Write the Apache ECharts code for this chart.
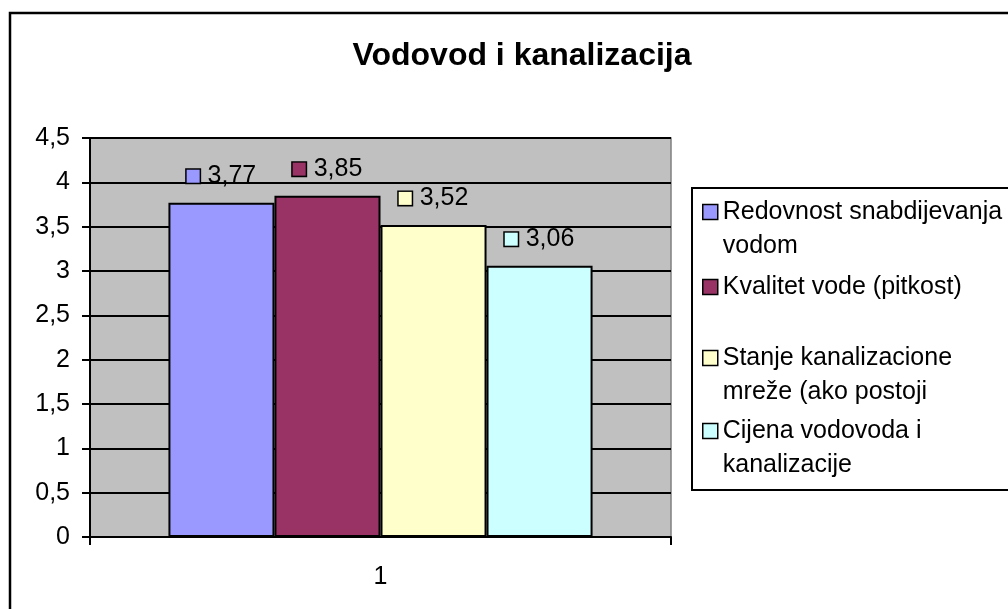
<!DOCTYPE html>
<html><head><meta charset="utf-8">
<script src="https://cdn.jsdelivr.net/npm/echarts@6/dist/echarts.min.js"></script>
<style>html,body{margin:0;padding:0;background:#fff}#c{width:1008px;height:609px}</style>
</head><body><div id="c"></div>
<script>
const title = 'Vodovod i kanalizacija';
const categories = ['1'];
const seriesNames = ['Redovnost snabdijevanja vodom', 'Kvalitet vode (pitkost)', 'Stanje kanalizacione mreže (ako postoji', 'Cijena vodovoda i kanalizacije'];
const legendLabels = ['Redovnost snabdijevanja\nvodom', 'Kvalitet vode (pitkost)', 'Stanje kanalizacione\nmreže (ako postoji', 'Cijena vodovoda i\nkanalizacije'];
const values = [3.77, 3.85, 3.52, 3.06];
const colors = ['#9999FF', '#993366', '#FFFFCC', '#CCFFFF'];
const yMin = 0, yMax = 4.5, yStep = 0.5;

const FONT = 'Liberation Sans, Arial, sans-serif';
const fmt = v => String(v).replace('.', ',');
const LH = 34;
const legendCenters = [212, 287, 358, 431];

const series = seriesNames.map((n, i) => ({
  name: n, type: 'bar', data: [values[i]],
  barGap: '0%', barCategoryGap: '27%',
  itemStyle: { color: colors[i], borderColor: '#000', borderWidth: 2 },
  label: {
    show: true, position: 'top', distance: 14,
    formatter: p => '{sq|}{v| ' + fmt(p.value) + '}',
    rich: {
      sq: { width: 13, height: 13, backgroundColor: colors[i], borderColor: '#000', borderWidth: 1.5 },
      v: { fontFamily: FONT, fontSize: 25, color: '#000', padding: [0, 0, 0, 1] }
    }
  }
}));

const legends = seriesNames.map((n, i) => {
  const multi = legendLabels[i].indexOf('\n') >= 0;
  return {
    data: [n], orient: 'vertical', left: 702,
    top: multi ? legendCenters[i] - 1.5 * LH : legendCenters[i] - LH / 2,
    padding: 0, itemWidth: 15, itemHeight: 15, icon: 'rect',
    itemStyle: { borderColor: '#000', borderWidth: 1.5 },
    formatter: name => {
      const t = legendLabels[seriesNames.indexOf(name)];
      return t.indexOf('\n') >= 0 ? '\u00a0\n' + t : t;
    },
    selectedMode: false,
    textStyle: { fontFamily: FONT, fontSize: 25, color: '#000', lineHeight: LH }
  };
});

const chart = echarts.init(document.getElementById('c'), null, { renderer: 'canvas' });
chart.setOption({
  animation: false,
  backgroundColor: '#fff',
  title: { text: title, left: 517, textAlign: 'center', top: 35, textStyle: { fontFamily: FONT, fontSize: 32, fontWeight: 'bold', color: '#000' } },
  graphic: [
    { type: 'rect', shape: { x: 10, y: 13, width: 1030, height: 620 }, style: { fill: 'none', stroke: '#000', lineWidth: 2.5 }, z: 100 },
    { type: 'rect', shape: { x: 692, y: 188, width: 340, height: 302 }, style: { fill: 'none', stroke: '#000', lineWidth: 2 }, z: 100 }
  ],
  legend: legends,
  grid: { left: 90, top: 138, width: 581, height: 399, show: true, backgroundColor: '#C0C0C0', borderColor: '#808080', borderWidth: 1.5 },
  xAxis: {
    type: 'category', data: categories,
    axisLine: { lineStyle: { color: '#000', width: 2 } },
    axisTick: { show: true, length: 8, lineStyle: { color: '#000', width: 2 } },
    axisLabel: { fontFamily: FONT, fontSize: 25, color: '#000', margin: 28 }
  },
  yAxis: {
    type: 'value', min: yMin, max: yMax, interval: yStep,
    axisLine: { show: true, lineStyle: { color: '#000', width: 2 } },
    axisTick: { show: true, length: 8, lineStyle: { color: '#000', width: 2 } },
    axisLabel: { fontFamily: FONT, fontSize: 25, color: '#000', margin: 20, formatter: v => fmt(v) },
    splitLine: { show: true, lineStyle: { color: '#000', width: 2 } }
  },
  series: series
});
</script></body></html>
